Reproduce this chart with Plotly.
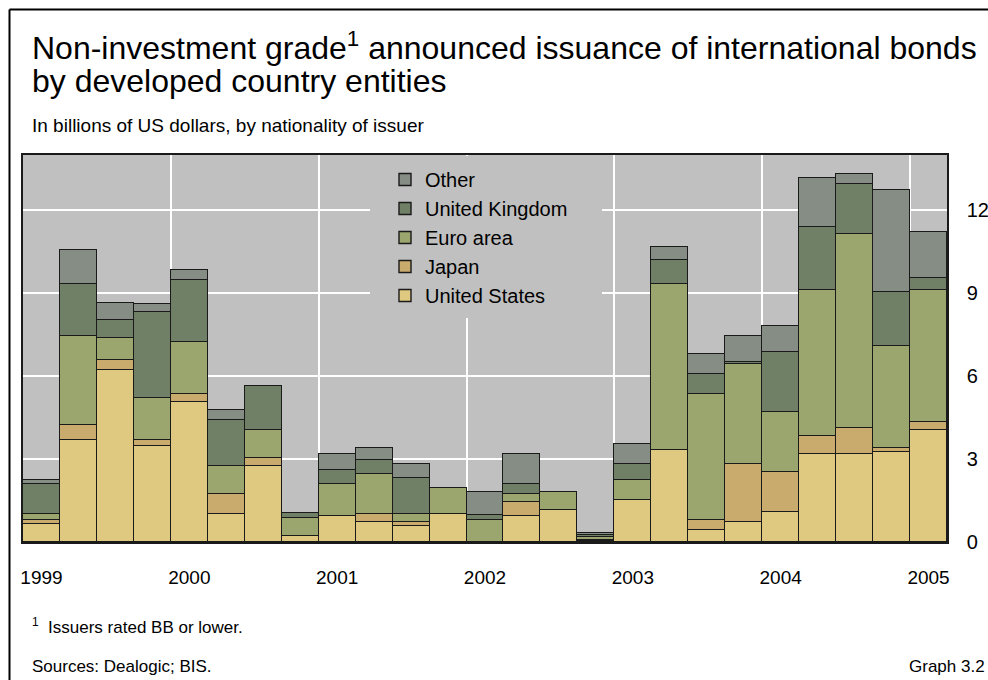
import plotly.graph_objects as go

# ---------------- data ----------------
quarters = [f"{y}Q{q}" for y in range(1999, 2005) for q in range(1, 5)] + ["2005Q1"]
year_labels = ["1999", "2000", "2001", "2002", "2003", "2004", "2005"]

united_states = [0.64, 3.68, 6.22, 3.47, 5.06, 1.01, 2.74, 0.21, 0.93, 0.71, 0.57, 1.00, 0.00,
                 0.93, 1.15, 0.05, 1.51, 3.32, 0.45, 0.72, 1.09, 3.18, 3.18, 3.25, 4.05]
japan = [0.15, 0.57, 0.35, 0.21, 0.29, 0.73, 0.29, 0.00, 0.00, 0.29, 0.17, 0.00, 0.00,
         0.51, 0.00, 0.04, 0.00, 0.00, 0.36, 2.10, 1.44, 0.66, 0.95, 0.16, 0.29]
euro_area = [0.24, 3.19, 0.80, 1.53, 1.87, 1.00, 1.02, 0.65, 1.16, 1.45, 0.26, 0.95, 0.79,
             0.29, 0.66, 0.08, 0.73, 6.01, 4.53, 3.61, 2.16, 5.27, 7.01, 3.67, 4.77]
united_kingdom = [1.06, 1.88, 0.65, 3.10, 2.25, 1.67, 1.59, 0.20, 0.51, 0.51, 1.31, 0.00, 0.20,
                  0.36, 0.00, 0.10, 0.58, 0.87, 0.72, 0.07, 2.17, 2.30, 1.81, 1.96, 0.43]
other = [0.17, 1.25, 0.64, 0.29, 0.36, 0.36, 0.00, 0.00, 0.58, 0.43, 0.51, 0.00, 0.82,
         1.09, 0.00, 0.05, 0.72, 0.49, 0.74, 0.94, 0.94, 1.76, 0.36, 3.69, 1.67]

y_ticks = [0, 3, 6, 9, 12]

series = [
    ("United States", united_states, "#dfc880"),
    ("Japan", japan, "#c9ab6d"),
    ("Euro area", euro_area, "#9ba56e"),
    ("United Kingdom", united_kingdom, "#6f8066"),
    ("Other", other, "#868d84"),
]

# ---------------- layout geometry (pixels) ----------------
W, H = 988, 680
PL, PR, PT, PB = 23, 947, 155, 542  # plot area edges


def fx(px):
    return (px - PL) / (PR - PL)


def fy(py):
    return (PB - py) / (PB - PT)


FONT = "Liberation Sans, Arial, Helvetica, sans-serif"

x = list(range(len(quarters)))

fig = go.Figure()
for name, vals, col in series:
    fig.add_trace(go.Bar(
        x=x, y=vals, name=name, width=1.0,
        marker=dict(color=col, line=dict(color="#1a1a1a", width=1.4)),
    ))

fig.update_layout(
    width=W, height=H,
    margin=dict(l=PL, r=W - PR, t=PT, b=H - PB, pad=0, autoexpand=False),
    barmode="stack", bargap=0,
    paper_bgcolor="white", plot_bgcolor="#c0c0c0",
    font=dict(family=FONT, color="black", size=20),
    showlegend=True,
    legend=dict(
        x=fx(385), y=fy(160), xanchor="left", yanchor="top",
        bgcolor="rgba(0,0,0,0)", borderwidth=0,
        traceorder="reversed", font=dict(size=20, family=FONT),
        tracegroupgap=0, itemclick=False,
    ),
    xaxis=dict(
        range=[-0.5, len(quarters) - 0.5], automargin=False,
        tickmode="array", tickvals=x[::4], ticktext=year_labels,
        showgrid=False, zeroline=False, ticks="",
        showline=True, mirror=True, linecolor="#1a1a1a", linewidth=1.5,
        tickfont=dict(size=19), ticklabelstandoff=17,
        minor=dict(tickmode="array", tickvals=[v + 3.5 for v in x[::4][:-1]],
                   showgrid=True, gridcolor="white", gridwidth=1.5, ticklen=0),
    ),
    yaxis=dict(
        range=[0, 14], side="right", automargin=False,
        tickmode="array", tickvals=y_ticks,
        showgrid=True, gridcolor="white", gridwidth=1.5, zeroline=False, ticks="",
        showline=True, mirror=True, linecolor="#1a1a1a", linewidth=1.5,
        tickfont=dict(size=20), ticklabelstandoff=14,
    ),
)

# background patch behind legend (hides gridlines there; no bars reach this area)
fig.add_shape(type="rect", xref="paper", yref="paper",
              x0=fx(370), x1=fx(602), y0=fy(318), y1=fy(PT + 1),
              fillcolor="#c0c0c0", line=dict(width=0), layer="above")

# outer frame lines (top and left)
fig.add_shape(type="line", xref="paper", yref="paper",
              x0=fx(9.5), x1=fx(W + 5), y0=fy(9.5), y1=fy(9.5),
              line=dict(color="black", width=2), layer="above")
fig.add_shape(type="line", xref="paper", yref="paper",
              x0=fx(9.5), x1=fx(9.5), y0=fy(9.5), y1=fy(H + 5),
              line=dict(color="black", width=2), layer="above")

texts = [
    ("Non-investment grade<sup>1</sup> announced issuance of international bonds", 30, 46, 32, "left"),
    ("by developed country entities", 30, 81, 32, "left"),
    ("In billions of US dollars, by nationality of issuer", 30, 125, 19, "left"),
    ("<sup>1</sup>  Issuers rated BB or lower.", 30, 626, 17, "left"),
    ("Sources: Dealogic; BIS.", 30, 666, 17, "left"),
    ("Graph 3.2", 987, 666, 17, "right"),
]
for t, px, py, sz, anc in texts:
    fig.add_annotation(text=t, xref="paper", yref="paper", x=fx(px), y=fy(py),
                       xanchor=anc, yanchor="middle", showarrow=False,
                       font=dict(size=sz, family=FONT, color="black"))

fig.write_html("out.html",
               config={"displayModeBar": False},
               post_script="document.body.style.margin='0px';document.body.style.overflow='hidden';")
